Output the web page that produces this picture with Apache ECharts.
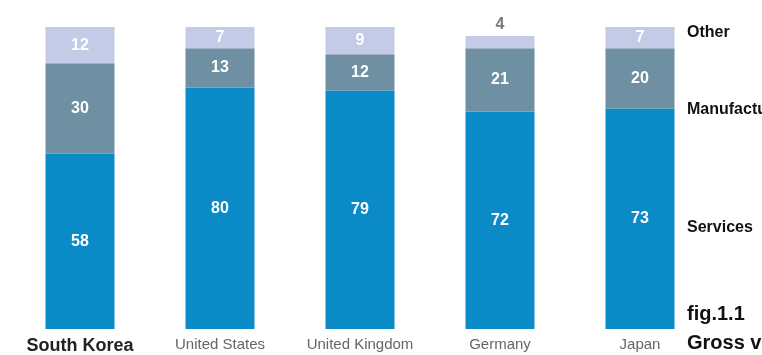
<!DOCTYPE html>
<html>
<head>
<meta charset="utf-8">
<script src="https://cdn.jsdelivr.net/npm/echarts@6/dist/echarts.min.js"></script>
<style>
  html, body { margin: 0; padding: 0; background: #fff; }
  #chart { width: 762px; height: 355px; }
</style>
</head>
<body>
<div id="chart"></div>
<script>
// Share of gross value added by sector (%)
const countries = ['South Korea', 'United States', 'United Kingdom', 'Germany', 'Japan'];
const services = [58, 80, 79, 72, 73];
const manufacturing = [30, 13, 12, 21, 20];
const other = [12, 7, 9, 4, 7];

const sectorColors = {
  services: '#0a8ac6',
  manufacturing: '#6f8fa3',
  other: '#c4cbe6'
};

const insideLabel = {
  show: true,
  position: 'inside',
  color: '#fff',
  fontFamily: 'Liberation Sans, Arial, sans-serif',
  fontWeight: 'bold',
  fontSize: 16
};

// Small segments get their value placed above the bar
function segmentData(values) {
  return values.map(v => v < 6
    ? { value: v, label: { position: 'top', color: '#7a7a7a', distance: 3 } }
    : v);
}

function sectorSeries(name, values, color) {
  return {
    name: name,
    type: 'bar',
    stack: 'gva',
    barWidth: 69,
    data: segmentData(values),
    itemStyle: { color: color },
    label: insideLabel,
    emphasis: { disabled: true }
  };
}

const sideFont = 'bold 16px "Liberation Sans", Arial, sans-serif';
const figFont = 'bold 20px "Liberation Sans", Arial, sans-serif';

const chart = echarts.init(document.getElementById('chart'), null, { renderer: 'canvas' });
chart.setOption({
  animation: false,
  grid: { left: 10, width: 700, top: 27, bottom: 25 },
  xAxis: {
    type: 'category',
    data: countries,
    axisLine: { show: false },
    axisTick: { show: false },
    axisLabel: {
      margin: 8,
      fontFamily: 'Liberation Sans, Arial, sans-serif',
      fontSize: 15,
      color: '#666',
      formatter: v => v === 'South Korea' ? '{b|' + v + '}' : v,
      rich: {
        b: { fontSize: 18, fontWeight: 'bold', color: '#222', fontFamily: 'Liberation Sans, Arial, sans-serif' }
      }
    }
  },
  yAxis: { type: 'value', min: 0, max: 100, show: false, splitLine: { show: false } },
  series: [
    sectorSeries('Services', services, sectorColors.services),
    sectorSeries('Manufacturing', manufacturing, sectorColors.manufacturing),
    sectorSeries('Other', other, sectorColors.other)
  ],
  graphic: [
    { type: 'text', left: 687, top: 25, style: { text: 'Other', font: sideFont, fill: '#111' } },
    { type: 'text', left: 687, top: 102, style: { text: 'Manufacturing', font: sideFont, fill: '#111' } },
    { type: 'text', left: 687, top: 220, style: { text: 'Services', font: sideFont, fill: '#111' } },
    { type: 'text', left: 687, top: 304, style: { text: 'fig.1.1', font: figFont, fill: '#111' } },
    { type: 'text', left: 687, top: 333, style: { text: 'Gross value added by sector', font: figFont, fill: '#111' } }
  ]
});
</script>
</body>
</html>
